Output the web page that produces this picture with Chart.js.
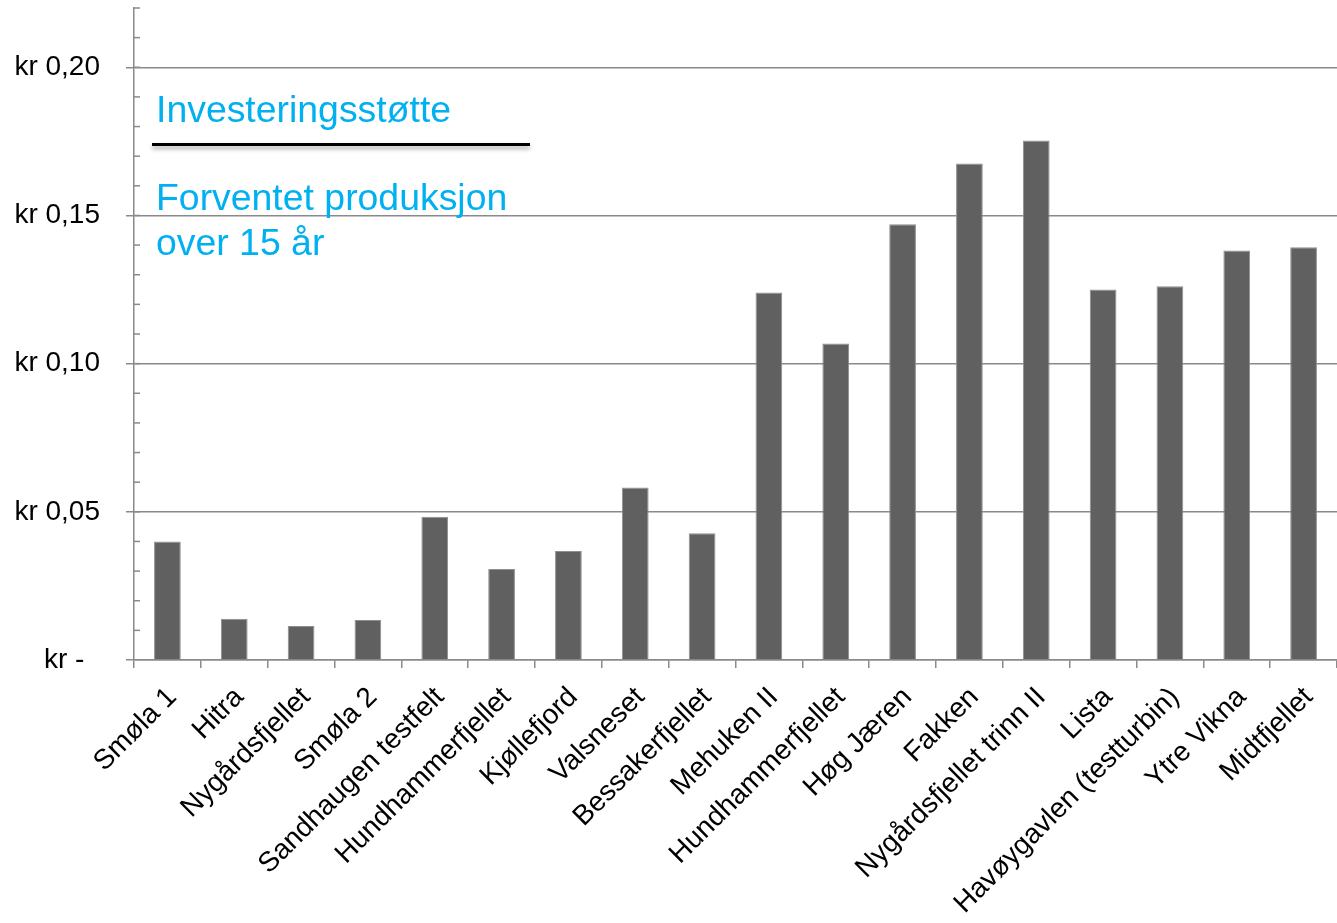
<!DOCTYPE html>
<html><head><meta charset="utf-8">
<script src="https://cdn.jsdelivr.net/npm/chart.js@4/dist/chart.umd.min.js"></script>
<style>
html,body{margin:0;padding:0;background:#fff;}
#wrap{position:relative;width:1337px;height:923px;overflow:hidden;}
canvas{position:absolute;left:0;top:0;}
.note{position:absolute;font-family:"Liberation Sans",Arial,sans-serif;font-size:37.4px;color:#00B0F0;white-space:nowrap;}
</style></head><body>
<div id="wrap">
<canvas id="c" width="1337" height="923"></canvas>
<div class="note" style="left:156px;top:88px;line-height:normal">Investeringsstøtte</div>
<div style="position:absolute;left:152px;top:143px;width:378px;height:2.5px;background:#000;box-shadow:0 3px 4px rgba(0,0,0,0.35)"></div>
<div class="note" style="left:156px;top:175px;line-height:45px">Forventet produksjon<br>over 15 år</div>
</div>
<script>
const categories = ["Smøla 1","Hitra","Nygårdsfjellet","Smøla 2","Sandhaugen testfelt","Hundhammerfjellet","Kjøllefjord","Valsneset","Bessakerfjellet","Mehuken II","Hundhammerfjellet","Høg Jæren","Fakken","Nygårdsfjellet trinn II","Lista","Havøygavlen (testturbin)","Ytre Vikna","Midtfjellet"];
const values = [0.0400,0.0139,0.0115,0.0135,0.0483,0.0307,0.0368,0.0582,0.0428,0.1240,0.1068,0.1470,0.1675,0.1753,0.1250,0.1261,0.1382,0.1393];
const yMax = 0.22;
const yStep = 0.05;
const yMinorStep = 0.01;
const yTickLabels = {"0.00":"kr -  ","0.05":"kr 0,05","0.10":"kr 0,10","0.15":"kr 0,15","0.20":"kr 0,20"};

const axisGray = '#8a8a8a';
const minorTicks = {
  id:'minorTicks',
  afterDraw(chart){
    const y = chart.scales.y, ctx = chart.ctx, left = chart.chartArea.left;
    ctx.save();
    ctx.strokeStyle = axisGray; ctx.lineWidth = 1.5;
    const n = Math.round(yMax / yMinorStep);
    for (let i = 1; i <= n; i++) {
      const py = y.getPixelForValue(i * yMinorStep);
      ctx.beginPath(); ctx.moveTo(left, py); ctx.lineTo(left + 6, py); ctx.stroke();
    }
    ctx.restore();
  }
};

new Chart(document.getElementById('c'), {
  type: 'bar',
  data: { labels: categories, datasets: [{ data: values, backgroundColor: '#606060', borderColor: '#8f8f8f', borderWidth: 1, categoryPercentage: 1, barPercentage: 0.4 }] },
  options: {
    responsive: false, animation: false,
    layout: { padding: { top: 8, right: 0, left: 0, bottom: 0 } },
    plugins: { legend: { display: false }, tooltip: { enabled: false } },
    scales: {
      x: {
        offset: true,
        grid: { offset: true, drawOnChartArea: false, drawTicks: true, tickLength: 8, color: axisGray, lineWidth: 1.5 },
        border: { display: true, color: axisGray, width: 1.5 },
        ticks: { autoSkip: false, maxRotation: 45, minRotation: 45, padding: 13, labelOffset: 5, color: '#000', font: { family: '"Liberation Sans", Arial, sans-serif', size: 28 } },
        afterFit(s){ s.height = 263; s.paddingLeft = 0; s.paddingRight = 0; }
      },
      y: {
        min: 0, max: yMax,
        grid: { color: axisGray, lineWidth: 1.5, tickLength: 8, tickColor: axisGray },
        border: { display: true, color: axisGray, width: 1.5 },
        ticks: { stepSize: yStep, includeBounds: false, padding: 26, color: '#000', font: { family: '"Liberation Sans", Arial, sans-serif', size: 28 },
          callback: (v) => yTickLabels[v.toFixed(2)] ?? '' },
        afterFit(s){ s.width = 134; s.paddingTop = 0; s.paddingBottom = 0; }
      }
    }
  },
  plugins: [minorTicks]
});
</script>
</body></html>
